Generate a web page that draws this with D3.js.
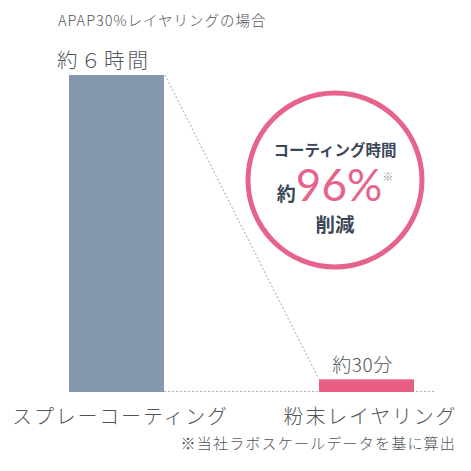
<!DOCTYPE html>
<html>
<head>
<meta charset="utf-8">
<script src="https://cdn.jsdelivr.net/npm/d3@7"></script>
<style>
  body { margin: 0; background: #fff; }
  text { font-family: "Noto Sans CJK JP", "Noto Sans", sans-serif; }
</style>
</head>
<body>
<script>
// data
const categories = ['スプレーコーティング', '粉末レイヤリング']
const values = [100, 4]          // relative coating time (%)
const valueLabels = ['約６時間', '約30分']
const title = 'APAP30%レイヤリングの場合'
const note = '※当社ラボスケールデータを基に算出'
const reduction = '96%'

const width = 471
const height = 471
const margin = { top: 75, bottom: 79, left: 69, right: 36 }
const innerWidth = width - margin.left - margin.right
const innerHeight = height - margin.top - margin.bottom

const colors = ['#8497ad', '#e95f84']
const pink = '#e6648a'
const textColor = '#50555c'
const dark = '#3c4758'

const svg = d3.select('body')
  .append('svg')
  .attr('width', width)
  .attr('height', height)

const main = svg.append('g')
  .attr('transform', `translate(${margin.left}, ${margin.top})`)

const xScale = d3.scaleBand()
  .domain(categories)
  .range([0, 345])
  .paddingInner(0.62)
  .paddingOuter(0)

const yScale = d3.scaleLinear()
  .domain([0, 100])
  .range([innerHeight, 0])

const bw = xScale.bandwidth()

// baseline (dashed)
main.append('line')
  .attr('x1', xScale(categories[0]) + bw)
  .attr('x2', innerWidth)
  .attr('y1', yScale(0) - 0.5)
  .attr('y2', yScale(0) - 0.5)
  .attr('stroke', '#9aa0a8')
  .attr('stroke-width', 0.8)
  .attr('stroke-dasharray', '2,2')

// connector (dashed)
main.append('line')
  .attr('x1', xScale(categories[0]) + bw + 1)
  .attr('y1', yScale(values[0]))
  .attr('x2', xScale(categories[1]))
  .attr('y2', yScale(values[1]))
  .attr('stroke', '#8a929c')
  .attr('stroke-width', 0.8)
  .attr('stroke-dasharray', '2,2')

// bars
main.selectAll('rect.bar')
  .data(values)
  .enter()
  .append('rect')
  .attr('class', 'bar')
  .attr('x', (d, i) => xScale(categories[i]))
  .attr('y', d => yScale(d))
  .attr('width', bw)
  .attr('height', d => yScale(0) - yScale(d))
  .attr('fill', (d, i) => colors[i])

// value labels
main.selectAll('text.val')
  .data(values)
  .enter()
  .append('text')
  .attr('class', 'val')
  .attr('x', (d, i) => i === 0 ? xScale(categories[i]) - 12 : xScale(categories[i]) + bw / 2 - 4)
  .attr('y', d => yScale(d) - 7)
  .attr('text-anchor', (d, i) => i === 0 ? 'start' : 'middle')
  .attr('font-size', (d, i) => i === 0 ? 20.5 : 19)
  .attr('font-weight', 300)
  .attr('letter-spacing', (d, i) => i === 0 ? 3 : 0.5)
  .attr('fill', textColor)
  .text((d, i) => valueLabels[i])

// category labels
main.selectAll('text.cat')
  .data(categories)
  .enter()
  .append('text')
  .attr('class', 'cat')
  .attr('x', (d, i) => xScale(d) + bw / 2 + (i === 0 ? 4 : 4))
  .attr('y', innerHeight + 32)
  .attr('text-anchor', 'middle')
  .attr('font-size', 20)
  .attr('font-weight', 300)
  .attr('letter-spacing', 1.8)
  .attr('fill', textColor)
  .text(d => d)

// title
svg.append('text')
  .attr('x', 58)
  .attr('y', 26)
  .attr('font-size', 14.5)
  .attr('font-weight', 300)
  .attr('letter-spacing', 1)
  .attr('fill', textColor)
  .text(title)

// note
svg.append('text')
  .attr('x', 456)
  .attr('y', 449)
  .attr('text-anchor', 'end')
  .attr('font-size', 15)
  .attr('font-weight', 300)
  .attr('letter-spacing', 1.2)
  .attr('fill', textColor)
  .text(note)

// circle callout
const cx = 335, cy = 180
const badge = svg.append('g')
  .attr('transform', `translate(${cx}, ${cy})`)

badge.append('circle')
  .attr('r', 87)
  .attr('fill', '#fff')
  .attr('stroke', pink)
  .attr('stroke-width', 5)

badge.append('text')
  .attr('y', -24)
  .attr('text-anchor', 'middle')
  .attr('font-size', 15.5)
  .attr('font-weight', 'bold')
  .attr('fill', dark)
  .text('コーティング時間')

const mid = badge.append('text')
  .attr('y', 21)
  .attr('text-anchor', 'middle')
  .attr('fill', dark)
mid.append('tspan')
  .attr('font-size', 19)
  .attr('font-weight', 'bold')
  .text('約')
mid.append('tspan')
  .attr('font-size', 44)
  .attr('font-family', 'Lato, "Noto Sans", sans-serif')
  .attr('fill', pink)
  .text(reduction)
mid.append('tspan')
  .attr('font-size', 11)
  .attr('dy', -20)
  .attr('fill', '#999')
  .text('※')

badge.append('text')
  .attr('y', 52)
  .attr('text-anchor', 'middle')
  .attr('font-size', 19.5)
  .attr('font-weight', 'bold')
  .attr('fill', dark)
  .text('削減')
</script>
</body>
</html>
